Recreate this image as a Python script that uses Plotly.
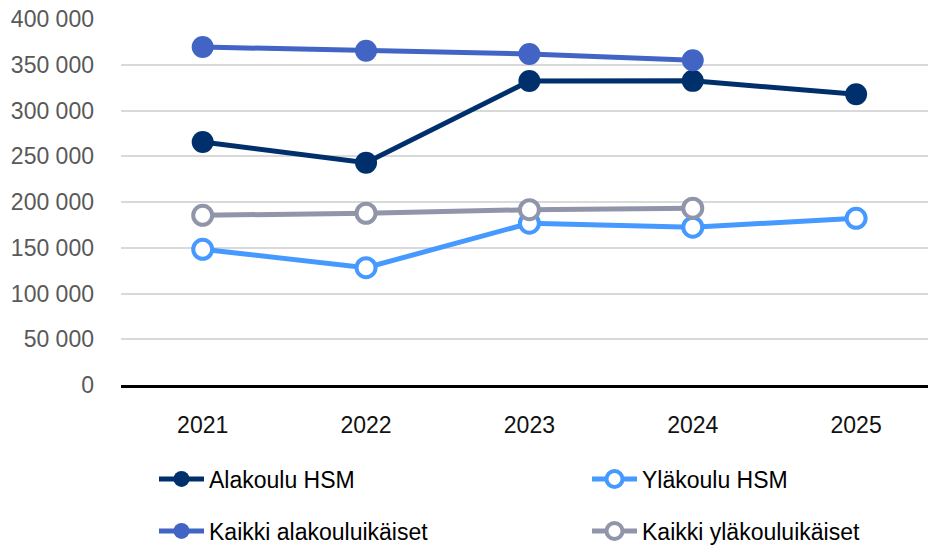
import plotly.graph_objects as go

years = ["2021", "2022", "2023", "2024", "2025"]
alakoulu_hsm = [265600, 243000, 332200, 332400, 317700]
ylakoulu_hsm = [148300, 128200, 176800, 172500, 182200]
kaikki_ala = [369400, 365400, 361700, 354900]
kaikki_yla = [185500, 187700, 191600, 193200]
ytick_vals = [0, 50000, 100000, 150000, 200000, 250000, 300000, 350000, 400000]
ytick_text = ["0", "50 000", "100 000", "150 000", "200 000", "250 000", "300 000", "350 000", "400 000"]

C_DARK = "#00306B"
C_LIGHT = "#4599FF"
C_MED = "#4264C4"
C_GREY = "#9095AA"
FONT = "Liberation Sans"

fig = go.Figure()
fig.add_trace(go.Scatter(x=years, y=alakoulu_hsm, name="Alakoulu HSM", mode="lines+markers",
                         line=dict(color=C_DARK, width=5), marker=dict(size=22, color=C_DARK),
                         legend="legend"))
fig.add_trace(go.Scatter(x=years, y=ylakoulu_hsm, name="Yläkoulu HSM", mode="lines+markers",
                         line=dict(color=C_LIGHT, width=5),
                         marker=dict(size=19, color="white", line=dict(color=C_LIGHT, width=4)),
                         legend="legend2"))
fig.add_trace(go.Scatter(x=years[:4], y=kaikki_ala, name="Kaikki alakouluikäiset", mode="lines+markers",
                         line=dict(color=C_MED, width=5), marker=dict(size=22, color=C_MED),
                         legend="legend3"))
fig.add_trace(go.Scatter(x=years[:4], y=kaikki_yla, name="Kaikki yläkouluikäiset", mode="lines+markers",
                         line=dict(color=C_GREY, width=5),
                         marker=dict(size=19, color="white", line=dict(color=C_GREY, width=4)),
                         legend="legend4"))

leg_common = dict(orientation="h", xanchor="left", yanchor="middle",
                  xref="container", yref="container", itemwidth=45,
                  font=dict(family=FONT, size=23, color="#000000"),
                  bgcolor="rgba(0,0,0,0)")

col1, col2 = 154 / 928, 587 / 928
row1, row2 = 1 - 479 / 548, 1 - 531 / 548

fig.update_layout(
    width=928, height=548,
    margin=dict(l=121, r=0, t=19, b=163, autoexpand=False),
    paper_bgcolor="white", plot_bgcolor="white",
    font=dict(family=FONT, size=23),
    showlegend=True,
    legend=dict(x=col1, y=row1, **leg_common),
    legend2=dict(x=col2, y=row1, **leg_common),
    legend3=dict(x=col1, y=row2, **leg_common),
    legend4=dict(x=col2, y=row2, **leg_common),
    xaxis=dict(type="category", range=[-0.5, 4.44], showgrid=False, automargin=False,
               showline=True, linecolor="#000000", linewidth=3,
               ticks="", ticklabelstandoff=17,
               tickfont=dict(family=FONT, size=23, color="#111111"), fixedrange=True),
    yaxis=dict(range=[0, 400000], tickvals=ytick_vals, ticktext=ytick_text, automargin=False,
               showgrid=True, gridcolor="#D9D9D9", gridwidth=2,
               zeroline=False, showline=False, ticks="", ticklabelstandoff=26,
               tickfont=dict(family=FONT, size=23, color="#595959"), fixedrange=True),
)

fig.write_html("out.html", config={"displayModeBar": False},
               post_script="document.body.style.margin='0';")
